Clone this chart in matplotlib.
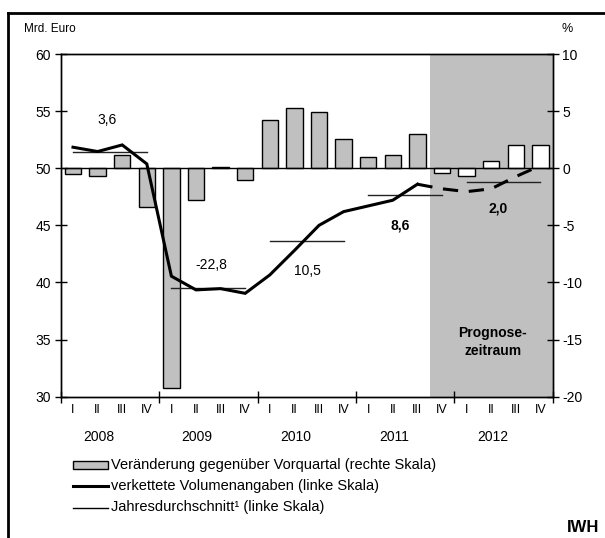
import matplotlib
matplotlib.use("Agg")
import matplotlib.pyplot as plt
from matplotlib.patches import Rectangle
from matplotlib.lines import Line2D
import numpy as np

plt.rcParams['font.family'] = ['Liberation Sans', 'DejaVu Sans']
plt.rcParams['axes.unicode_minus'] = False

# ---- data ----
years = ["2008", "2009", "2010", "2011", "2012"]
quarters = ["I", "II", "III", "IV"]
# quarter-on-quarter change in % (right axis)
change_pct = [-0.5, -0.7, 1.2, -3.4,
              -19.2, -2.8, 0.1, -1.0,
              4.2, 5.3, 4.9, 2.6,
              1.0, 1.2, 3.0, -0.4,
              -0.7, 0.6, 2.0, 2.0]
# chained volumes, bn Euro (left axis)
volume = [51.84, 51.46, 52.04, 50.38,
          40.55, 39.35, 39.46, 39.05,
          40.66, 42.80, 45.00, 46.20,
          46.70, 47.20, 48.60, 48.20,
          47.95, 48.20, 49.27, 50.23]
# annual averages (left axis) and annual growth labels
annual_avg = [51.43, 39.52, 43.65, 47.63, 48.83]
annual_growth = ["3,6", "-22,8", "10,5", "8,6", "2,0"]
growth_bold = [False, False, False, True, True]
forecast_start = 15  # index of first forecast quarter (2011 IV)

W, H = 605, 538
fig = plt.figure(figsize=(W / 100, H / 100), dpi=100)

L, R, T, B = 60.7, 552.7, 54.0, 396.7
ax = fig.add_axes([L / W, 1 - B / H, (R - L) / W, (B - T) / H])
ax2 = ax.twinx()
ax.set_zorder(ax2.get_zorder() + 1)
ax.patch.set_visible(False)

n = len(volume)
x = np.arange(n) + 0.5

ax.set_xlim(0, n)
ax.set_ylim(30, 60)
ax2.set_ylim(-20, 10)

grey = '#c0c0c0'
# forecast shading
ax2.axvspan(forecast_start, n, color=grey, lw=0, zorder=0)
# bars
fc = [grey if i < forecast_start else 'white' for i in range(n)]
ax2.bar(x, change_pct, width=0.66, color=fc, edgecolor='black', linewidth=1.0, zorder=2)
ax2.axhline(0, color='black', lw=1.0, zorder=3)

# volume line: solid until 2011 III, dashed after
ax.plot(x[:forecast_start], volume[:forecast_start], color='black', lw=2.2,
        solid_joinstyle='miter', zorder=5)
ax.plot(x[forecast_start - 1:], volume[forecast_start - 1:], color='black', lw=2.2,
        dashes=(5, 3.5), zorder=5)

# annual averages
for k, v in enumerate(annual_avg):
    ax.plot([x[4 * k], x[4 * k + 3]], [v, v], color='#222222', lw=1.0, zorder=4)

label_pos = [(1.89, 54.2), (6.14, 41.5), (10.05, 41.0), (13.78, 45.0), (17.8, 46.5)]
for (lx, ly), txt, bd in zip(label_pos, annual_growth, growth_bold):
    ax.text(lx, ly, txt, ha='center', va='center', fontsize=10,
            fontweight='bold' if bd else 'normal', zorder=6)

ax.text(17.56, 34.8, "Prognose-\nzeitraum", ha='center', va='center', fontsize=10,
        fontweight='bold', linespacing=1.35, zorder=6)

# axes styling
for a in (ax, ax2):
    for s in a.spines.values():
        s.set_linewidth(1.0)
        s.set_color('black')
ax.set_yticks(np.arange(30, 61, 5))
ax2.set_yticks(np.arange(-20, 11, 5))
ax.tick_params(axis='y', direction='inout', length=8, width=1, labelsize=10, pad=3)
ax2.tick_params(axis='y', direction='inout', length=8, width=1, labelsize=10, pad=3)
ax.set_xticks(np.arange(0, n + 1, 4))
ax.set_xticklabels([])
ax.tick_params(axis='x', direction='inout', length=8, width=1)
ax2.tick_params(axis='x', length=0)

# quarter and year labels
xt = ax.get_xaxis_transform()
for i in range(n):
    ax.text(x[i], -0.04, quarters[i % 4], transform=xt, ha='center', va='center', fontsize=9)
for k, yr in enumerate(years):
    ax.text(4 * k + 1.55, -0.118, yr, transform=xt, ha='center', va='center', fontsize=10)

# axis unit labels
fig.text(24 / W, 1 - 29 / H, "Mrd. Euro", ha='left', va='center', fontsize=8.5)
fig.text(562 / W, 1 - 29 / H, "%", ha='left', va='center', fontsize=9)

# legend (manual)
def fx(px):
    return px / W

def fy(py):
    return 1 - py / H

fig.add_artist(Rectangle((fx(73), fy(469)), 35 / W, 8 / H, transform=fig.transFigure,
                         facecolor=grey, edgecolor='black', lw=1.0))
fig.text(fx(111), fy(465), "Veränderung gegenüber Vorquartal (rechte Skala)",
         ha='left', va='center', fontsize=10.5)
fig.add_artist(Line2D([fx(73), fx(108)], [fy(486), fy(486)], transform=fig.transFigure,
                      color='black', lw=2.2))
fig.text(fx(111), fy(486), "verkettete Volumenangaben (linke Skala)",
         ha='left', va='center', fontsize=10.5)
fig.add_artist(Line2D([fx(73), fx(108)], [fy(507.5), fy(507.5)], transform=fig.transFigure,
                      color='black', lw=1.0))
fig.text(fx(111), fy(507.5), "Jahresdurchschnitt¹ (linke Skala)",
         ha='left', va='center', fontsize=10.5)

fig.text(599 / W, 1 - 527 / H, "IWH", ha='right', va='center', fontsize=12,
         fontweight='bold')

# outer frame (top and left edges visible)
fig.add_artist(Line2D([fx(8), fx(605)], [fy(13), fy(13)], transform=fig.transFigure,
                      color='black', lw=2.0))
fig.add_artist(Line2D([fx(8), fx(8)], [fy(13), fy(538)], transform=fig.transFigure,
                      color='black', lw=2.0))

fig.savefig("out.png", dpi=100)
